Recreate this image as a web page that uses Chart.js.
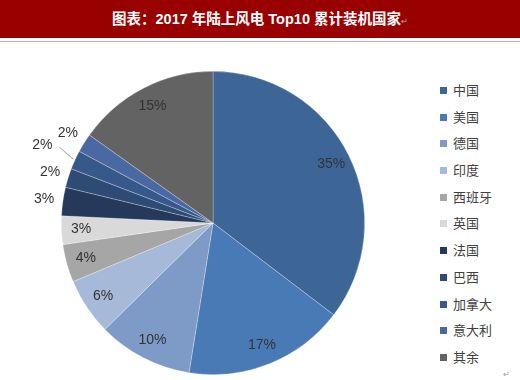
<!doctype html>
<html lang="zh">
  <head>
    <meta charset="utf-8">
    <title>2017 年陆上风电 Top10 累计装机国家</title>
    <style>
      * {
        margin: 0;
        padding: 0;
      }
      body {
        width: 520px;
        height: 380px;
        background: #fff;
        position: relative;
        overflow: hidden;
        font-family: "Noto Sans CJK SC", sans-serif;
      }
      .titleBar {
        position: absolute;
        left: 0;
        top: 0;
        width: 520px;
        height: 38px;
        background: #990000;
        color: #fff;
        text-align: center;
        line-height: 38px;
        font-family: "Liberation Sans", "Noto Sans CJK SC", sans-serif;
        font-size: 14.5px;
        font-weight: bold;
      }
      .titleBar .ret {
        font-size: 8px;
        color: #d9a0a0;
        font-weight: normal;
      }
      .rule {
        position: absolute;
        left: 0;
        top: 41px;
        width: 520px;
        height: 1px;
        background: #b4b4bc;
      }
      .chartBox {
        position: absolute;
        left: 0;
        top: 42px;
        width: 430px;
        height: 338px;
      }
      #legend {
        position: absolute;
        left: 440px;
        top: 77px;
        list-style: none;
      }
      #legend li {
        height: 26.7px;
        line-height: 26.7px;
        font-size: 13px;
        color: #404040;
        white-space: nowrap;
      }
      #legend span {
        display: inline-block;
        width: 7px;
        height: 7px;
        margin-right: 6px;
        vertical-align: 1px;
      }
      .cornerMark {
        position: absolute;
        left: 503px;
        top: 368px;
        font-size: 8px;
        color: #999;
      }
    </style>
  </head>
  <body>
    <div class="titleBar">图表：2017 年陆上风电 Top10 累计装机国家<span class="ret">↵</span></div>
    <div class="rule"></div>
    <div class="chartBox">
      <canvas id="myChart" width="430" height="338"></canvas>
    </div>
    <ul id="legend"></ul>
    <div class="cornerMark">↵</div>
    <script src="https://cdn.jsdelivr.net/npm/chart.js"></script>
    <script>
    // data
    const countries = ['中国', '美国', '德国', '印度', '西班牙', '英国', '法国', '巴西', '加拿大', '意大利', '其余'];
    const shares = [35, 17, 10, 6, 4, 3, 3, 2, 2, 2, 15];
    const sliceColors = ['#3d6697', '#4a7ab5', '#7e9bc8', '#a7b9d9', '#a6a6a6', '#d9d9d9',
                         '#253a5b', '#2d4b74', '#36588b', '#4a68a2', '#636363'];

    // percentage labels: inside near the rim, the small dark ones outside
    const pieLabels = {
      id: 'pieLabels',
      afterDatasetsDraw(chart, args, opts) {
        const ctx = chart.ctx;
        const meta = chart.getDatasetMeta(0);
        ctx.save();
        ctx.font = '14px "Liberation Sans", Arial, sans-serif';
        ctx.fillStyle = '#333';
        ctx.textAlign = 'center';
        ctx.textBaseline = 'middle';
        meta.data.forEach((arc, i) => {
          const p = arc.getProps(['x', 'y', 'startAngle', 'endAngle', 'outerRadius'], true);
          const mid = (p.startAngle + p.endAngle) / 2;
          const out = opts.outside[i];
          const r = out ? p.outerRadius + out : p.outerRadius * 0.87;
          const cx = p.x + Math.cos(mid) * r;
          const cy = p.y + Math.sin(mid) * r;
          if (out && out > 25) {
            ctx.strokeStyle = '#a0a0a0';
            ctx.lineWidth = 1;
            ctx.beginPath();
            ctx.moveTo(cx + 17, cy + 2);
            ctx.lineTo(p.x + Math.cos(mid) * (p.outerRadius + 2), p.y + Math.sin(mid) * (p.outerRadius + 2));
            ctx.stroke();
          }
          ctx.fillText(shares[i] + '%', cx, cy);
        });
        ctx.restore();
      }
    };

    const config = {
      type: 'pie',
      data: {
        labels: countries,
        datasets: [{
          data: shares,
          backgroundColor: sliceColors,
          borderColor: 'rgba(255,255,255,0.45)',
          borderWidth: 0.6
        }]
      },
      options: {
        responsive: false,
        animation: false,
        layout: {
          padding: { left: 61, right: 65, top: 29, bottom: 5 }
        },
        plugins: {
          legend: { display: false },
          tooltip: { enabled: false },
          pieLabels: { outside: [0, 0, 0, 0, 0, 0, 19, 19, 36, 19, 0] }
        }
      },
      plugins: [pieLabels]
    };

    const myChart = new Chart(document.getElementById('myChart'), config);

    // legend built from the same arrays
    const legend = document.getElementById('legend');
    countries.forEach((name, i) => {
      const li = document.createElement('li');
      li.innerHTML = '<span style="background:' + sliceColors[i] + '"></span>' + name;
      legend.appendChild(li);
    });
    </script>
  </body>
</html>
